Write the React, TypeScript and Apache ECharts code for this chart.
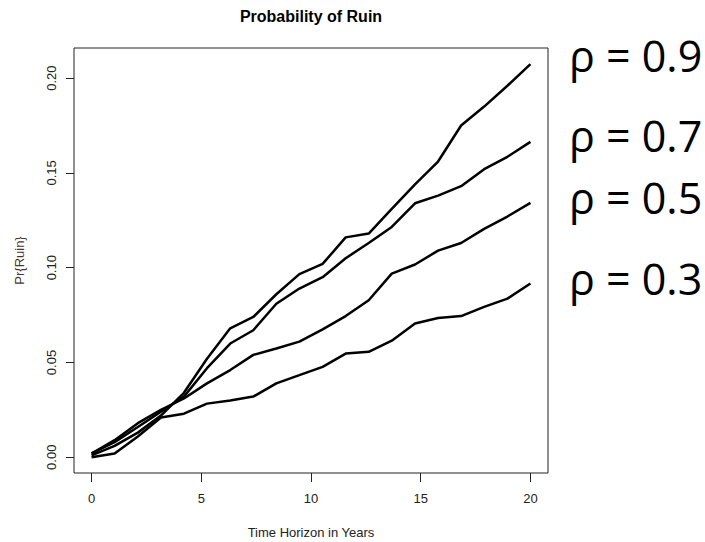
import React, { useEffect, useRef } from "react";
import * as echarts from "echarts";

// Time horizon sample points (years)
const years = [0, 1.05, 2.11, 3.16, 4.21, 5.26, 6.32, 7.37, 8.42, 9.47, 10.53, 11.58, 12.63, 13.68, 14.74, 15.79, 16.84, 17.89, 18.95, 20];

// Probability of ruin for each correlation
const rho09 = [0.001, 0.006, 0.013, 0.022, 0.034, 0.052, 0.068, 0.074, 0.086, 0.0966, 0.102, 0.116, 0.118, 0.131, 0.144, 0.156, 0.175, 0.185, 0.196, 0.2074];
const rho07 = [0.002, 0.008, 0.016, 0.024, 0.032, 0.047, 0.060, 0.067, 0.081, 0.089, 0.095, 0.105, 0.113, 0.1215, 0.134, 0.138, 0.143, 0.152, 0.1585, 0.1664];
const rho05 = [0.002, 0.009, 0.018, 0.025, 0.031, 0.039, 0.046, 0.054, 0.0574, 0.061, 0.0675, 0.0745, 0.0828, 0.0969, 0.1017, 0.109, 0.113, 0.1205, 0.127, 0.1342];
const rho03 = [0.000, 0.002, 0.011, 0.021, 0.023, 0.0283, 0.030, 0.032, 0.039, 0.0433, 0.0477, 0.0547, 0.0556, 0.0615, 0.0706, 0.0735, 0.0745, 0.0793, 0.0837, 0.0917];

const xTicks = [0, 5, 10, 15, 20];
const yTicks = [0, 0.05, 0.1, 0.15, 0.2];

const seriesNames = ["ρ = 0.9", "ρ = 0.7", "ρ = 0.5", "ρ = 0.3"];
const seriesValues = [rho09, rho07, rho05, rho03];
const labelY = [55, 135, 197, 278];

const chartTitle = "Probability of Ruin";
const xTitle = "Time Horizon in Years";
const yTitle = "Pr{Ruin}";

export default function App() {
  const ref = useRef<HTMLDivElement>(null);

  useEffect(() => {
    document.body.style.margin = "0";
    if (!ref.current) return;
    const chart = echarts.init(ref.current, undefined, { renderer: "svg" });
    const font = "Liberation Sans, Arial, sans-serif";
    chart.setOption({
      animation: false,
      backgroundColor: "#fff",
      grid: {
        left: 74,
        top: 48,
        width: 474,
        height: 425,
        show: true,
        borderColor: "#222",
        borderWidth: 1,
        backgroundColor: "transparent",
        outerBoundsMode: "none",
        containLabel: false,
      },
      xAxis: {
        type: "value",
        min: -0.8,
        max: 20.8,
        splitLine: { show: false },
        axisLine: { show: false, onZero: false },
        axisTick: {
          show: true,
          inside: false,
          length: 9,
          customValues: xTicks,
          lineStyle: { color: "#222", width: 1 },
        },
        axisLabel: {
          customValues: xTicks,
          margin: 19,
          fontSize: 13,
          color: "#222",
          fontFamily: font,
        },
        name: xTitle,
        nameLocation: "middle",
        nameGap: 53,
        nameTextStyle: { fontSize: 13, color: "#222", fontFamily: font },
      },
      yAxis: {
        type: "value",
        min: -0.0083,
        max: 0.2159,
        splitLine: { show: false },
        axisLine: { show: false, onZero: false },
        axisTick: {
          show: true,
          inside: false,
          length: 8,
          customValues: yTicks,
          lineStyle: { color: "#222", width: 1 },
        },
        axisLabel: {
          customValues: yTicks,
          rotate: 90,
          margin: 16,
          fontSize: 13,
          color: "#222",
          fontFamily: font,
          formatter: (v: number) => v.toFixed(2),
        },
        name: yTitle,
        nameLocation: "middle",
        nameGap: 48,
        nameRotate: 90,
        nameTextStyle: { fontSize: 13, color: "#4a3530", fontFamily: font },
      },
      series: seriesValues.map((vals, i) => ({
        name: seriesNames[i],
        type: "line",
        data: vals.map((v, j) => [years[j], v]),
        showSymbol: false,
        symbol: "none",
        silent: true,
        lineStyle: { color: "#000", width: 2.5 },
        itemStyle: { color: "#000" },
      })),
      graphic: [
        {
          type: "text",
          x: 311,
          y: 16,
          style: {
            text: chartTitle,
            align: "center",
            verticalAlign: "middle",
            fontSize: 16,
            fontWeight: "bold",
            fontFamily: font,
            fill: "#000",
          },
        },
        ...seriesNames.map((t, i) => ({
          type: "text",
          x: 569,
          y: labelY[i],
          style: {
            text: t,
            align: "left",
            verticalAlign: "middle",
            fontSize: 43,
            fontFamily: "Open Sans, sans-serif",
            fill: "#000",
          },
        })),
      ],
    });
    return () => chart.dispose();
  }, []);

  return <div ref={ref} style={{ width: 705, height: 542 }} />;
}
